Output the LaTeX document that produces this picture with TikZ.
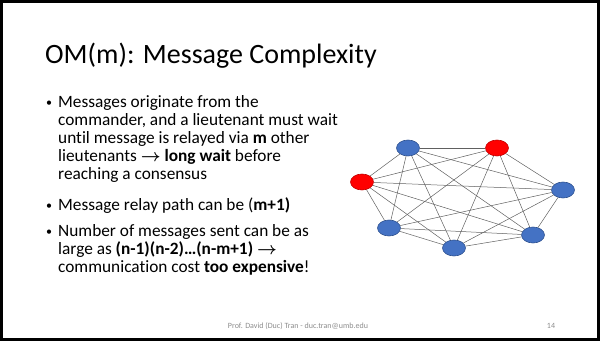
\documentclass[tikz,border=0pt]{standalone}
\usepackage{fontspec}
\setmainfont{Carlito}[Ligatures=NoCommon]
\usepackage{amsmath}
\usetikzlibrary{shapes.geometric}
\definecolor{nodeblue}{HTML}{4472C4}
\definecolor{nodeblueedge}{HTML}{2F528F}
\definecolor{nodered}{HTML}{FF0000}
\definecolor{noderededge}{HTML}{C00000}
\definecolor{linkgray}{HTML}{606060}
\definecolor{footgray}{HTML}{8C8C8C}
\tikzset{
  proc/.style={ellipse, minimum width=23pt, minimum height=16pt, inner sep=0pt, line width=0.6pt},
  loyal/.style={proc, fill=nodeblue, draw=nodeblueedge},
  traitor/.style={proc, fill=nodered, draw=noderededge},
  link/.style={draw=linkgray, line width=0.5pt},
  bodytext/.style={anchor=base west, inner sep=0pt, font=\fontsize{17.3}{18}\selectfont},
  bulletmark/.style={anchor=base west, inner sep=0pt, font=\fontsize{12}{18}\selectfont},
  foot/.style={anchor=base, inner sep=0pt, text=footgray, font=\fontsize{8}{10}\selectfont}
}
\newcommand{\rarr}{$\boldsymbol{\rightarrow}$}
\begin{document}
\begin{tikzpicture}[x=1pt, y=-1pt]
\useasboundingbox (0,0) rectangle (600,341);
% slide frame
\draw[line width=3pt, black] (1.5,1.5) rectangle (598.5,339.5);

% title
\node[anchor=base west, inner sep=0pt, font=\fontsize{28}{32}\selectfont] (title) at (45,63) {OM(m): Message Complexity};

% bullets
\node[bulletmark] (dot1) at (46,106) {•};
\node[bodytext] (b1) at (58,107) {\vtop{%
  \hbox{Messages originate from the}
  \hbox{commander, and a lieutenant must wait}
  \hbox{until message is relayed via \textbf{m} other}
  \hbox{lieutenants \rarr\ \textbf{long wait} before}
  \hbox{reaching a consensus}}};
\node[bulletmark] (dot2) at (46,209) {•};
\node[bodytext] (b2) at (58,210) {Message relay path can be (\textbf{m+1)}};
\node[bulletmark] (dot3) at (46,235) {•};
\node[bodytext] (b3) at (58,236) {\vtop{%
  \hbox{Number of messages sent can be as}
  \hbox{large as \textbf{(n-1)(n-2)\dots(n-m+1)} \rarr}
  \hbox{communication cost \textbf{too expensive}!}}};

% processes
\node[loyal]   (p1) at (408,148) {};
\node[traitor] (p2) at (497,148) {};
\node[traitor] (p3) at (362,182) {};
\node[loyal]   (p4) at (563,190) {};
\node[loyal]   (p5) at (389,228) {};
\node[loyal]   (p6) at (454,248) {};
\node[loyal]   (p7) at (533,235) {};

% every pair of processes is connected
\foreach \a/\b in {p1/p2,p1/p3,p1/p4,p1/p5,p1/p6,p1/p7,
                   p2/p3,p2/p4,p2/p5,p2/p6,p2/p7,
                   p3/p4,p3/p5,p3/p6,p3/p7,
                   p4/p5,p4/p6,p4/p7,
                   p5/p6,p5/p7,
                   p6/p7}
  \draw[link] (\a) -- (\b);

% footer
\node[foot] (footer) at (298,328) {Prof. David (Duc) Tran - duc.tran@umb.edu};
\node[foot] (page) at (551,328) {14};
\end{tikzpicture}
\end{document}
